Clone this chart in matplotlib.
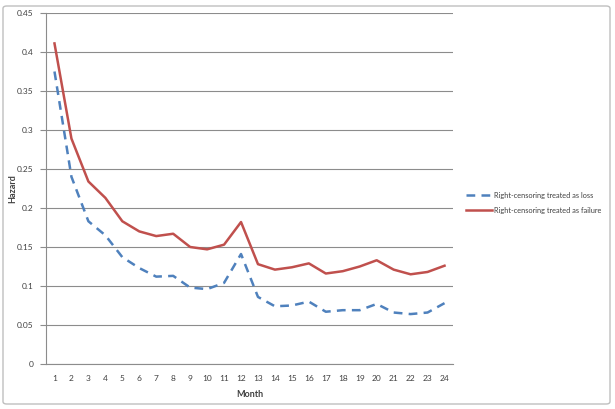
import matplotlib
matplotlib.use("Agg")
import matplotlib.pyplot as plt
from matplotlib.patches import FancyBboxPatch

months = list(range(1, 25))
loss = [0.375, 0.240, 0.183, 0.165, 0.137, 0.123, 0.112, 0.113, 0.098, 0.096, 0.104, 0.141,
        0.086, 0.074, 0.075, 0.080, 0.067, 0.069, 0.069, 0.077, 0.066, 0.064, 0.066, 0.078]
failure = [0.411, 0.289, 0.234, 0.213, 0.183, 0.170, 0.164, 0.167, 0.150, 0.147, 0.153, 0.182,
           0.128, 0.121, 0.124, 0.129, 0.116, 0.119, 0.125, 0.133, 0.121, 0.115, 0.118, 0.126]
yticks = [0, 0.05, 0.1, 0.15, 0.2, 0.25, 0.3, 0.35, 0.4, 0.45]
series_names = ["Right-censoring treated as loss", "Right-censoring treated as failure"]

plt.rcParams['font.family'] = ['Lato', 'DejaVu Sans']
W, H = 615, 409
fig = plt.figure(figsize=(W / 100, H / 100), dpi=100)

# outer chart border
fig.patches.append(FancyBboxPatch((3 / W, 5 / H), 607 / W, 398 / H,
                                  boxstyle="round,pad=0,rounding_size=0.006",
                                  transform=fig.transFigure, fill=False,
                                  edgecolor="#BFBFBF", linewidth=1.0))

ax = fig.add_axes([46 / W, 1 - 364 / H, (453 - 46) / W, (364 - 13) / H])
ax.plot(months, loss, color="#4F81BD", lw=1.8, linestyle=(0, (3.5, 2.5)), label=series_names[0])
ax.plot(months, failure, color="#C0504D", lw=1.8, label=series_names[1])

ax.set_xlim(0.5, 24.5)
ax.set_ylim(0, 0.45)
ax.set_yticks(yticks)
ax.set_yticklabels(["%g" % v for v in yticks])
ax.set_xticks(months)
ax.set_xticklabels([str(m) for m in months])
ax.grid(axis="y", color="#8C8C8C", linewidth=0.8)
ax.set_axisbelow(True)
for s in ["top", "right"]:
    ax.spines[s].set_visible(False)
ax.spines["left"].set_color("#8C8C8C")
ax.spines["bottom"].set_color("#8C8C8C")
ax.tick_params(axis="y", length=4, width=0.8, color="#8C8C8C", labelsize=6, labelcolor="#404040", pad=5)
ax.tick_params(axis="x", length=0, labelsize=6, labelcolor="#404040", pad=8)
ax.set_xlabel("Month", fontsize=6.5, fontweight="bold", color="#404040", labelpad=6)
ax.set_ylabel("Hazard", fontsize=6.5, fontweight="bold", color="#404040")
ax.yaxis.set_label_coords((17 - 46) / (453 - 46), 0.5)

leg = fig.legend(loc="upper left", bbox_to_anchor=(463 / W, 1 - 189 / H), frameon=False,
                 fontsize=5.3, handlelength=3.6, handletextpad=0.15, labelspacing=1.05,
                 borderaxespad=0)
for t in leg.get_texts():
    t.set_color("#404040")

fig.savefig("out.png", dpi=100)
